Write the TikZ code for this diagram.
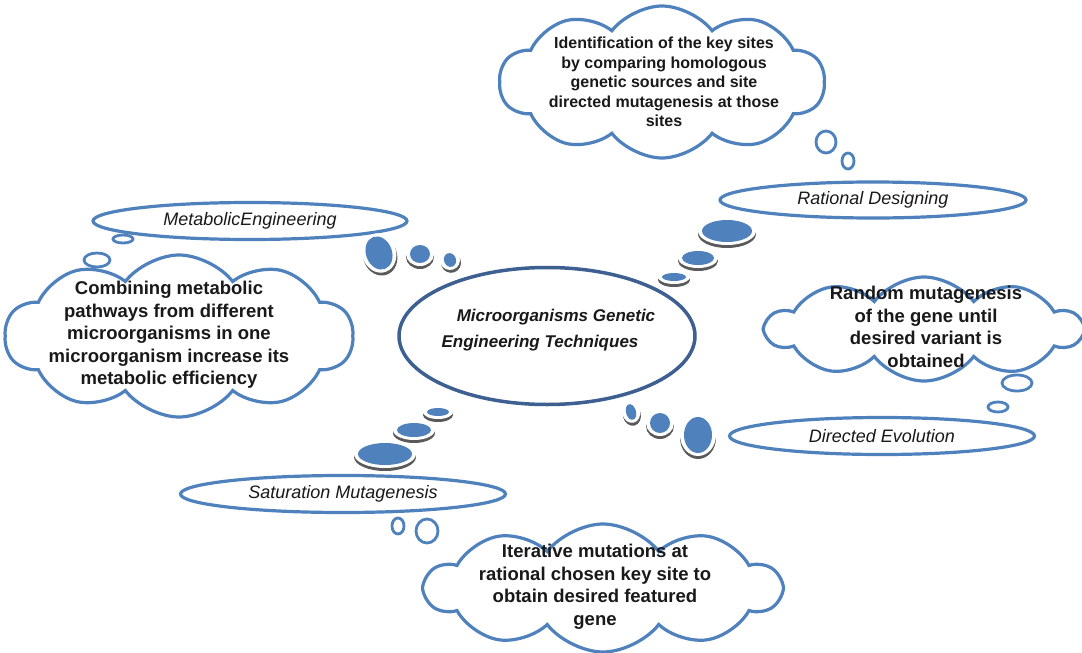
\documentclass[tikz,border=0pt]{standalone}
\usepackage{fontspec}
\setmainfont{Liberation Sans}
\usepackage{tikz}
\usetikzlibrary{shapes.geometric, shapes.symbols, positioning}
\definecolor{mgblue}{HTML}{4F81BD}
\definecolor{mgdark}{HTML}{3D6091}
\definecolor{mgshade}{HTML}{303030}

\begin{document}
\begin{tikzpicture}[x=1pt, y=-1pt,
  puff/.style={cloud, cloud puffs=10, cloud puff arc=105, draw=mgblue, line width=3.2pt, fill=white, inner sep=0pt},
  idea/.style={align=center, font=\fontsize{18.5}{22.5}\selectfont\bfseries, text=black!90},
  tag/.style={ellipse, draw=mgblue, line width=3.2pt, fill=white, inner sep=0pt, font=\fontsize{18}{22}\selectfont\itshape, text=black!90},
  ring/.style={draw=mgblue, line width=2.8pt}
]
\useasboundingbox (0,0) rectangle (1082,653);

% Clouds (explanations)
\node[puff, minimum width=325pt, minimum height=152pt] (ratcloud) at (662,82) {};
\node[idea, font=\fontsize{16}{19.5}\selectfont\bfseries] (rattext) at (664,82)
  {Identification of the key sites\\by comparing homologous\\genetic sources and site\\directed mutagenesis at those\\sites};

\node[puff, minimum width=348pt, minimum height=162pt] (metcloud) at (179,336) {};
\node[idea] (mettext) at (169,335)
  {Combining metabolic\\pathways from different\\microorganisms in one\\microorganism increase its\\metabolic efficiency};

\node[puff, minimum width=315pt, minimum height=104pt] (dircloud) at (924,329) {};
\node[idea] (dirtext) at (926,327)
  {Random mutagenesis\\of the gene until\\desired variant is\\obtained};

\node[puff, minimum width=355pt, minimum height=128pt] (satcloud) at (603,588) {};
\node[idea] (sattext) at (595,587)
  {Iterative mutations at\\rational chosen key site to\\obtain desired featured\\gene};

% Thought rings
\draw[ring] (123,239) ellipse (10 and 4);
\draw[ring] (97,260) ellipse (13 and 7);
\draw[ring] (826,142) ellipse (10 and 11);
\draw[ring] (848,161) ellipse (6 and 8);
\draw[ring] (1017,383) ellipse (15 and 8);
\draw[ring] (998,407) ellipse (10 and 5);
\draw[ring] (398,526) ellipse (6 and 8);
\draw[ring] (427,531) ellipse (11 and 12);

% Technique labels
\node[tag, minimum width=314pt, minimum height=37pt] (metab) at (250,221) {MetabolicEngineering};
\node[tag, minimum width=306pt, minimum height=36pt] (rational) at (873,200) {Rational Designing};
\node[tag, minimum width=305pt, minimum height=37pt] (directed) at (882,436) {Directed Evolution};
\node[tag, minimum width=325pt, minimum height=37pt] (saturation) at (343,494) {Saturation Mutagenesis};

% Central ellipse
\node[ellipse, draw=mgdark, line width=3.5pt, fill=white, minimum width=296pt, minimum height=137pt] (hub) at (547,336) {};
\node[font=\fontsize{17}{26}\selectfont\bfseries\itshape, align=center, text=black!90] (hubtext) at (548,330)
  {\hspace*{16pt}Microorganisms Genetic\\Engineering Techniques\hspace*{16pt}};

% Beads between hub and labels
\foreach \bx/\by/\ra/\rb/\rot in {379/253/13/17/20, 420/254/10/9/0, 450/260/6/7/20,
    727/231/25/11/0, 698/258/16/7/0, 674/277/12/4/0,
    438/412/11/4/0, 414/430/17/7/0, 385/454/27/11/0,
    631/412/5/8/15, 660/423/10/10/0, 698/435/14/18/0} {
  \fill[mgshade!80, rotate around={\rot:(\bx,\by)}] (\bx,\by+3) ellipse ({\ra+4} and {\rb+3});
  \fill[white, rotate around={\rot:(\bx,\by)}] (\bx,\by) ellipse ({\ra+4} and {\rb+3});
  \fill[mgblue, rotate around={\rot:(\bx,\by)}] (\bx,\by) ellipse ({\ra} and {\rb});
}

\end{tikzpicture}
\end{document}
